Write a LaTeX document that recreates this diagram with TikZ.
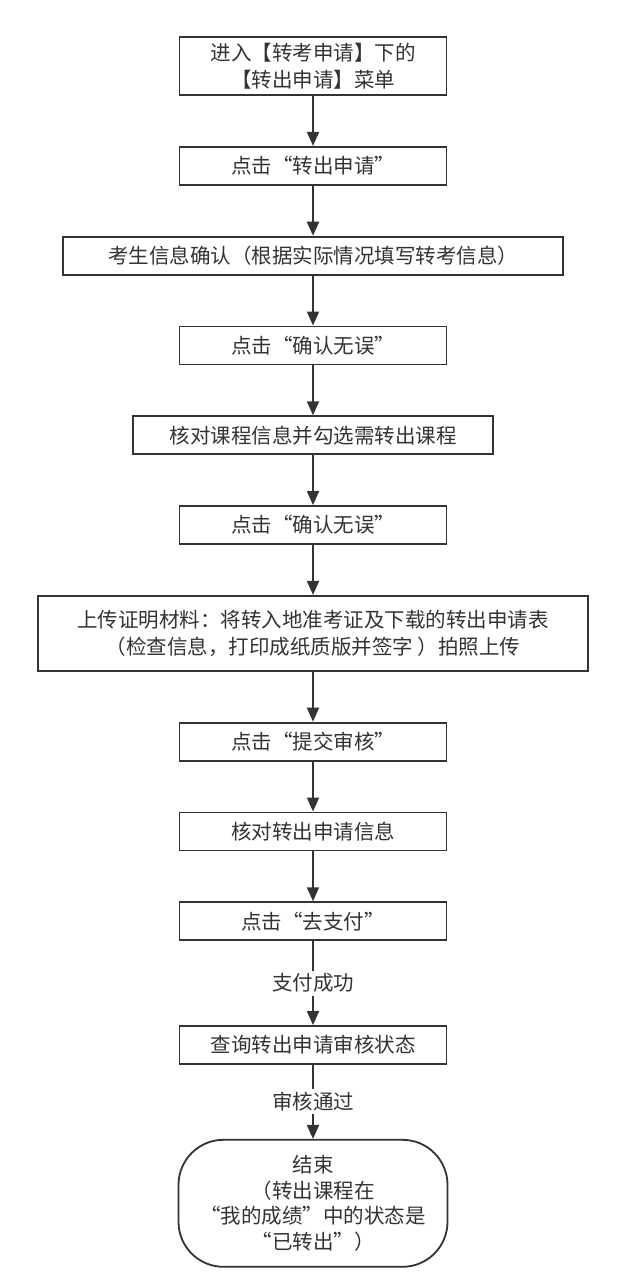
\documentclass[tikz,border=0pt]{standalone}
\usepackage{fontspec}
\setmainfont{Noto Sans CJK SC}
\usetikzlibrary{shapes.geometric, arrows.meta, positioning}
\definecolor{FlowGray}{HTML}{333333}

\begin{document}
\begin{tikzpicture}[x=1pt, y=1pt,
        stepbox/.style={draw=FlowGray, line width=1.8pt, text=FlowGray, fill=white,
            minimum width=267pt, minimum height=38pt, align=center, inner sep=2pt,
            font=\fontsize{20.5}{27}\selectfont},
        endbox/.style={stepbox, minimum width=269pt, minimum height=127pt,
            rounded corners=45pt, font=\fontsize{20.5}{25.5}\selectfont},
        flow/.style={draw=FlowGray, line width=1.8pt, -{Triangle[length=14pt, width=12pt]}},
        flowlabel/.style={fill=white, text=FlowGray, inner sep=3pt,
            font=\fontsize{20.5}{24}\selectfont}]
    \useasboundingbox (0,0) rectangle (626,-1285);
    \node[stepbox, minimum height=58pt] (enter) at (313,-66) {进入【转考申请】下的\\【转出申请】菜单};
    \node[stepbox, below=50pt of enter] (applyout) {点击“转出申请”};
    \node[stepbox, below=50pt of applyout, minimum width=500pt] (examinee) {考生信息确认（根据实际情况填写转考信息）};
    \node[stepbox, below=50pt of examinee] (confirma) {点击“确认无误”};
    \node[stepbox, below=50pt of confirma, minimum width=360pt] (courses) {核对课程信息并勾选需转出课程};
    \node[stepbox, below=50pt of courses] (confirmb) {点击“确认无误”};
    \node[stepbox, below=50pt of confirmb, minimum width=550pt, minimum height=75pt] (upload)
        {上传证明材料：将转入地准考证及下载的转出申请表\\（检查信息，打印成纸质版并签字 ）拍照上传};
    \node[stepbox, below=50pt of upload] (submit) {点击“提交审核”};
    \node[stepbox, below=50pt of submit] (checkinfo) {核对转出申请信息};
    \node[stepbox, below=50pt of checkinfo] (pay) {点击“去支付”};
    \node[stepbox, below=84pt of pay] (status) {查询转出申请审核状态};
    \node[endbox, below=74pt of status] (finish) {结束\\（转出课程在\\“我的成绩”中的状态是\\“已转出”）};

    \draw[flow] (enter) -- (applyout);
    \draw[flow] (applyout) -- (examinee);
    \draw[flow] (examinee) -- (confirma);
    \draw[flow] (confirma) -- (courses);
    \draw[flow] (courses) -- (confirmb);
    \draw[flow] (confirmb) -- (upload);
    \draw[flow] (upload) -- (submit);
    \draw[flow] (submit) -- (checkinfo);
    \draw[flow] (checkinfo) -- (pay);
    \draw[flow] (pay) -- node[flowlabel] (paid) {支付成功} (status);
    \draw[flow] (status) -- node[flowlabel] (passed) {审核通过} (finish);
\end{tikzpicture}
\end{document}
